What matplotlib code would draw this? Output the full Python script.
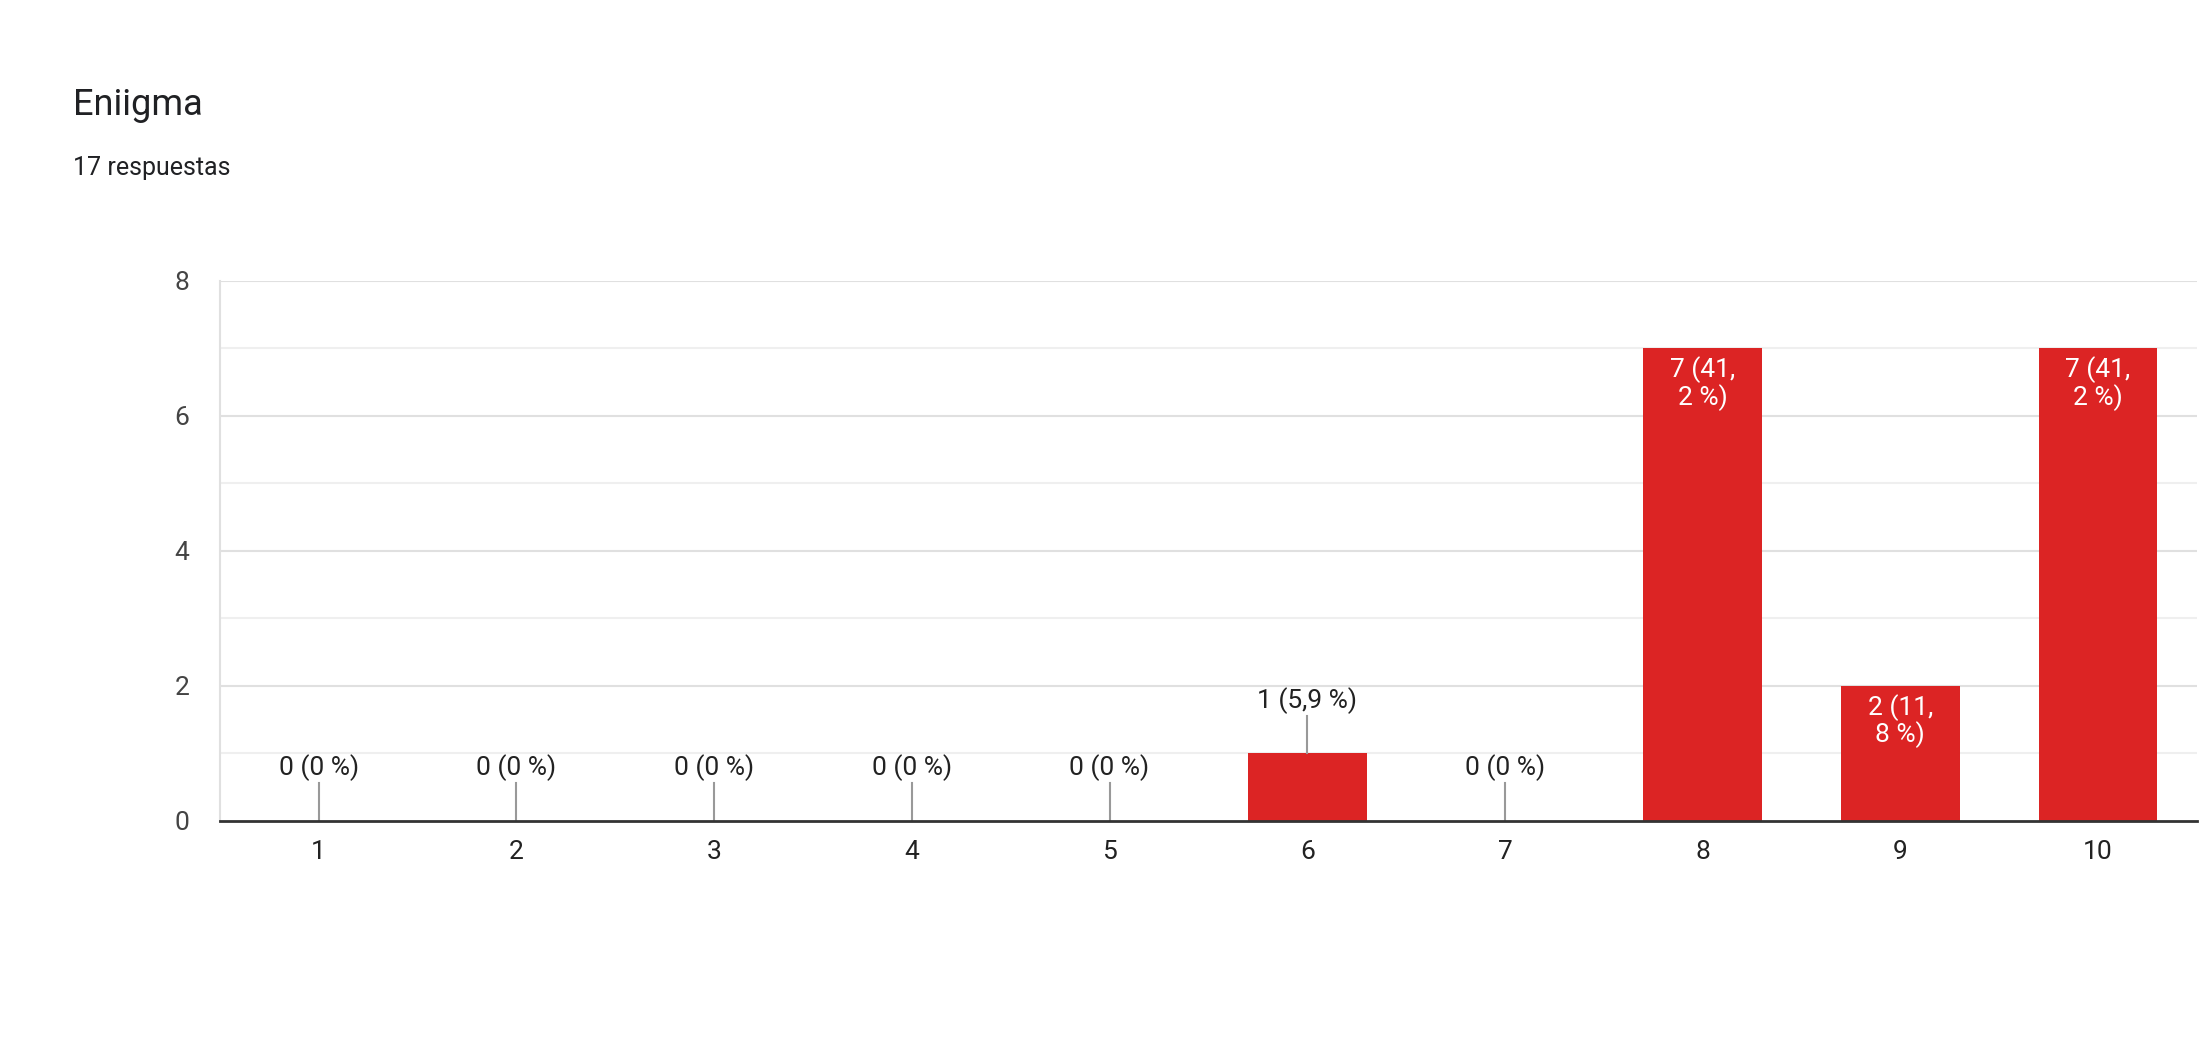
import matplotlib
matplotlib.use("Agg")
import matplotlib.pyplot as plt

categories = ["1", "2", "3", "4", "5", "6", "7", "8", "9", "10"]
values = [0, 0, 0, 0, 0, 1, 0, 7, 2, 7]
labels = ["0 (0 %)"] * 5 + ["1 (5,9 %)", "0 (0 %)", "7 (41,\n2 %)", "2 (11,\n8 %)", "7 (41,\n2 %)"]
title = "Eniigma"
subtitle = "17 respuestas"

plt.rcParams['font.family'] = ['Roboto', 'DejaVu Sans']
fig = plt.figure(figsize=(21.99, 10.44), dpi=100)
ax = fig.add_axes([0.100, 0.214, 0.899, 0.517])
x = list(range(len(categories)))
red = '#dc2424'
ax.bar(x, values, width=0.6, color=red, zorder=3)
ax.set_xlim(-0.5, len(categories) - 0.5)
ax.set_ylim(0, 8)
for y in range(1, 9):
    ax.axhline(y, color='#e0e0e0' if y % 2 == 0 else '#efefef', lw=1.5, zorder=1)
ax.set_yticks([0, 2, 4, 6, 8])
ax.set_xticks(x)
ax.set_xticklabels(categories)
ax.tick_params(axis='both', length=0, labelsize=19, colors='#222222', pad=14)
ax.tick_params(axis='y', colors='#444444', pad=22)
for s in ['top', 'right']:
    ax.spines[s].set_visible(False)
ax.spines['left'].set_color('#e0e0e0')
ax.spines['left'].set_linewidth(1.5)
ax.spines['bottom'].set_color('#333333')
ax.spines['bottom'].set_linewidth(2)
ax.spines['bottom'].set_zorder(5)

for xi, v, lab in zip(x, values, labels):
    if v >= 2:
        ax.text(xi, v - 0.12, lab, ha='center', va='top', color='white', fontsize=19,
                linespacing=1.05, zorder=4)
    else:
        ax.plot([xi, xi], [v, v + 0.55], color='#999999', lw=1.5, zorder=4)
        ax.text(xi, v + 0.58, lab, ha='center', va='bottom', color='#222222', fontsize=19, zorder=4)

fig.text(0.033, 0.899, title, fontsize=26, color='#202124', va='center')
fig.text(0.033, 0.839, subtitle, fontsize=18, color='#202124', va='center')
fig.savefig("out.png", dpi=100, facecolor='white')
